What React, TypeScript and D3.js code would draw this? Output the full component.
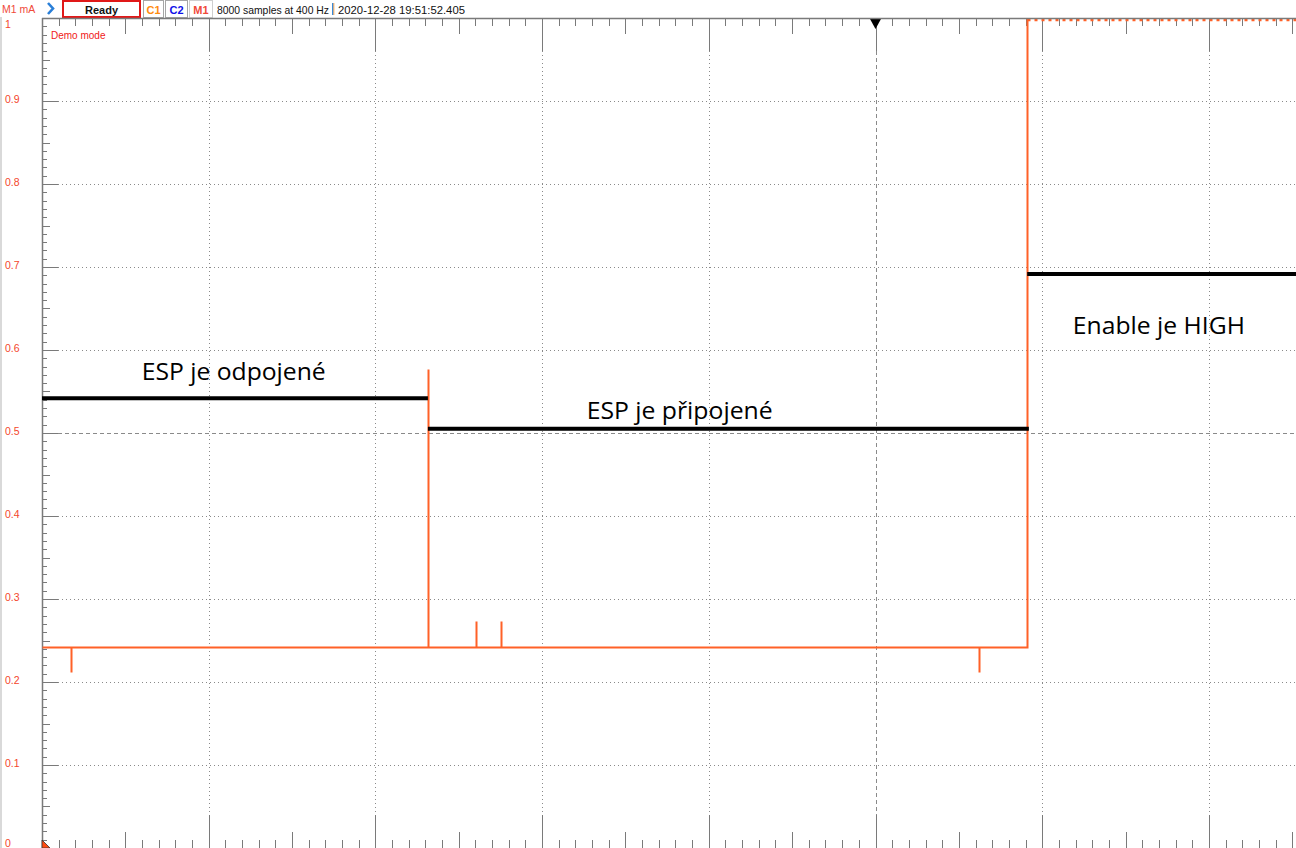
import { useMemo } from 'react';
import * as d3 from 'd3';

// time axis: 8000 samples at 400 Hz = 20 s, screen shows the left part of it
const fullSeconds = 20;
const yTicks = [0, 0.1, 0.2, 0.3, 0.4, 0.5, 0.6, 0.7, 0.8, 0.9, 1];
const yTickLabels = ['0', '0.1', '0.2', '0.3', '0.4', '0.5', '0.6', '0.7', '0.8', '0.9', '1'];

// M1 current trace (mA)
const baseLevel = 0.242;
const spikeTimes = [0.35, 4.63, 5.21, 5.51, 11.24];
const spikeValues = [0.212, 0.577, 0.273, 0.273, 0.212];
const stepTime = 11.82;
const stepLevel = 1.2; // over range -> clipped at top

// hand drawn notes
const noteStart = [0, 4.63, 11.82];
const noteEnd = [4.63, 11.84, 20];
const noteLevel = [0.542, 0.505, 0.6916];
const noteText = ['ESP je odpojené', 'ESP je připojené', 'Enable je HIGH'];
const noteTextT = [2.3, 7.65, 13.40];
const noteTextV = [0.5639, 0.5169, 0.6193]; // baselines
const noteWidth = [184, 186, 172];

const W = 1296;
const H = 848;
const TRACE = '#ff6127';
const GRID = '#8a8a8a';
const LABEL = '#f4462c';
const UI_FONT = '"Liberation Sans", Arial, sans-serif';

export default function App() {
  const x = useMemo(() => d3.scaleLinear().domain([0, fullSeconds]).range([42, 1709]), []);
  const y = useMemo(() => d3.scaleLinear().domain([0, 1]).range([848, 18]), []);
  const left = x(0);
  const top = y(1);
  const bottom = y(0);
  const xEnd = x.invert(W);

  // x ticks every 0.2 s, mid every 1 s, major (grid) every 2 s
  const xt = d3.range(0, Math.floor(xEnd / 0.2) + 1).map((i) => i * 0.2);
  const yt = d3.range(0, 101).map((i) => i / 100);

  const pts: [number, number][] = [[0, baseLevel]];
  spikeTimes.forEach((t, i) => {
    pts.push([t, baseLevel], [t, spikeValues[i]], [t, baseLevel]);
  });
  pts.push([stepTime, baseLevel], [stepTime, Math.min(stepLevel, 1)]);
  const line = d3.line<[number, number]>().x((d) => Math.round(x(d[0])) + 0.5).y((d) => Math.round(y(d[1])) + 0.5);

  return (
    <svg width={W} height={H} style={{ position: 'absolute', left: 0, top: 0, background: '#fff' }}>
      <rect x={0} y={0} width={2} height={H} fill="#d9d9d9" />

      {/* grid */}
      {yTicks.slice(1, -1).map((v) => (
        <line key={'gy' + v} x1={left + 16} x2={W} y1={Math.round(y(v)) + 0.5} y2={Math.round(y(v)) + 0.5}
          stroke={GRID} strokeWidth={1} strokeDasharray={v === 0.5 ? '4,3' : '1,3'} />
      ))}
      {d3.range(1, 8).map((k) => {
        const t = k * 2;
        const px = Math.round(x(t)) + 0.5;
        return (
          <line key={'gx' + k} x1={px} x2={px} y1={top + 33} y2={bottom - 33}
            stroke={GRID} strokeWidth={1} strokeDasharray={t === 10 ? '4,3' : '1,3'} />
        );
      })}

      {/* axes */}
      <line x1={left + 0.5} x2={left + 0.5} y1={top} y2={bottom} stroke="#7a7a7a" strokeWidth={1.5} />
      {yt.map((v, i) => {
        const len = i % 10 === 0 ? 16 : i % 5 === 0 ? 8 : 5;
        const py = Math.round(y(v)) + 0.5;
        return <line key={'ty' + i} x1={left} x2={left + len} y1={py} y2={py} stroke="#7a7a7a" />;
      })}
      {xt.map((t, i) => {
        const len = i % 10 === 0 ? 33 : i % 5 === 0 ? 16 : 8;
        const px = Math.round(x(t)) + 0.5;
        return (
          <g key={'tx' + i}>
            <line x1={px} x2={px} y1={top} y2={top + len} stroke="#7a7a7a" />
            <line x1={px} x2={px} y1={bottom} y2={bottom - len} stroke="#7a7a7a" />
          </g>
        );
      })}
      {yTicks.map((v, i) => (
        <text key={'yl' + v} x={5} y={Math.max(24, Math.min(843, y(v) - 2))} fontFamily={UI_FONT} fontSize={10.5}
          fill={LABEL} dominantBaseline="central">{yTickLabels[i]}</text>
      ))}

      {/* trigger + channel markers */}
      <path d={`M${x(10) - 6},${top} L${x(10) + 6},${top} L${x(10)},${top + 11} Z`} fill="#000" />
      <path d={`M${left},${bottom - 8} L${left + 8},${bottom} L${left},${bottom} Z`} fill="#ff4a10" stroke="#333" strokeWidth={0.8} />

      <text x={51} y={35} fontFamily={UI_FONT} fontSize={10} fill="#f01818" dominantBaseline="central">Demo mode</text>

      {/* trace */}
      <path d={line(pts) ?? ''} fill="none" stroke={TRACE} strokeWidth={2} />
      <line x1={Math.round(x(stepTime)) + 0.5} x2={W} y1={top + 2} y2={top + 2} stroke={TRACE} strokeWidth={2.5} strokeDasharray="3,4" />

      {/* notes */}
      {noteText.map((s, i) => (
        <g key={'n' + i}>
          <line x1={x(noteStart[i])} x2={Math.min(W, x(noteEnd[i]))} y1={y(noteLevel[i])} y2={y(noteLevel[i])} stroke="#000" strokeWidth={4} />
          <text x={x(noteTextT[i])} y={y(noteTextV[i])} textAnchor="middle"
            textLength={noteWidth[i]} lengthAdjust="spacingAndGlyphs"
            fontFamily='"Open Sans", "Noto Sans", sans-serif' fontSize={24.5} fill="#000">{s}</text>
        </g>
      ))}

      {/* header */}
      <rect x={0} y={0} width={W} height={17} fill="#fff" />
      <text x={2} y={9} fontFamily={UI_FONT} fontSize={10.5} fill="#f04a3a" dominantBaseline="central">M1 mA</text>
      <path d="M48,3 L53,8.5 L48,14" fill="none" stroke="#2a7fd8" strokeWidth={2.6} />
      <rect x={63} y={1} width={77} height={16} fill="#fff" stroke="#e01818" strokeWidth={2} />
      <text x={101.5} y={9.5} textAnchor="middle" fontFamily={UI_FONT} fontSize={11} fontWeight="bold" fill="#111" dominantBaseline="central">Ready</text>
      <rect x={143.5} y={0.5} width={20} height={17} fill="#fff" stroke="#a6a6a6" />
      <text x={153.5} y={9.5} textAnchor="middle" fontFamily={UI_FONT} fontSize={11} fontWeight="bold" fill="#ff8c10" dominantBaseline="central">C1</text>
      <rect x={165.5} y={0.5} width={22} height={17} fill="#fff" stroke="#a6a6a6" />
      <text x={176.5} y={9.5} textAnchor="middle" fontFamily={UI_FONT} fontSize={11} fontWeight="bold" fill="#1010e8" dominantBaseline="central">C2</text>
      <rect x={189.5} y={0.5} width={23} height={17} fill="#fff" stroke="#cfcfcf" />
      <text x={201} y={9.5} textAnchor="middle" fontFamily={UI_FONT} fontSize={11} fontWeight="bold" fill="#f04a3a" dominantBaseline="central">M1</text>
      <text x={217} y={9.5} fontFamily={UI_FONT} fontSize={11} fill="#111" dominantBaseline="central"
        textLength={112} lengthAdjust="spacingAndGlyphs">8000 samples at 400 Hz</text>
      <rect x={332} y={3} width={1.5} height={12} fill="#3a8ad8" />
      <rect x={333.5} y={3} width={0.8} height={12} fill="#ff9a30" />
      <text x={338} y={9.5} fontFamily={UI_FONT} fontSize={11} fill="#111" dominantBaseline="central"
        textLength={127} lengthAdjust="spacingAndGlyphs">2020-12-28 19:51:52.405</text>
      <line x1={left} x2={W} y1={top + 0.5} y2={top + 0.5} stroke="#7a7a7a" strokeWidth={1.5} />
    </svg>
  );
}
